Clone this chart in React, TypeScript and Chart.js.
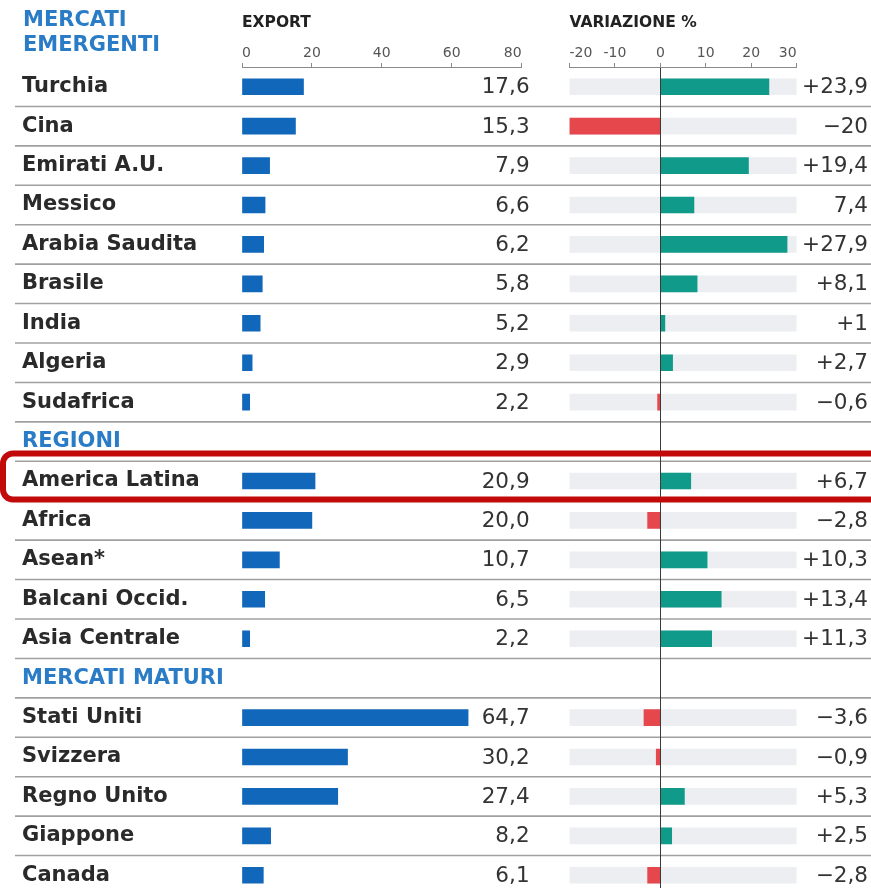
import React, { useEffect, useRef } from 'react';
import { Chart, registerables } from 'chart.js';

Chart.register(...registerables);

const FONT = '"DejaVu Sans", "Liberation Sans", sans-serif';

const SECTION_TITLE = ['MERCATI', 'EMERGENTI'];
const EXPORT_TITLE = 'EXPORT';
const VARIATION_TITLE = 'VARIAZIONE %';

const CATEGORIES = [
  'Turchia', 'Cina', 'Emirati A.U.', 'Messico', 'Arabia Saudita', 'Brasile', 'India', 'Algeria', 'Sudafrica',
  'REGIONI',
  'America Latina', 'Africa', 'Asean*', 'Balcani Occid.', 'Asia Centrale',
  'MERCATI MATURI',
  'Stati Uniti', 'Svizzera', 'Regno Unito', 'Giappone', 'Canada',
];
const HEADER_ROWS = ['REGIONI', 'MERCATI MATURI'];
const HIGHLIGHT_ROW = 'America Latina';

const EXPORT_VALUES = [
  17.6, 15.3, 7.9, 6.6, 6.2, 5.8, 5.2, 2.9, 2.2,
  null,
  20.9, 20.0, 10.7, 6.5, 2.2,
  null,
  64.7, 30.2, 27.4, 8.2, 6.1,
];
const VARIATION_VALUES = [
  23.9, -20, 19.4, 7.4, 27.9, 8.1, 1, 2.7, -0.6,
  null,
  6.7, -2.8, 10.3, 13.4, 11.3,
  null,
  -3.6, -0.9, 5.3, 2.5, -2.8,
];
const VARIATION_LABELS = [
  '+23,9', '\u221220', '+19,4', '7,4', '+27,9', '+8,1', '+1', '+2,7', '\u22120,6',
  '',
  '+6,7', '\u22122,8', '+10,3', '+13,4', '+11,3',
  '',
  '\u22123,6', '\u22120,9', '+5,3', '+2,5', '\u22122,8',
];
const EXPORT_TICKS = [0, 20, 40, 60, 80];
const VARIATION_TICKS = [-20, -10, 0, 10, 20, 30];

const COLORS = {
  exportBar: '#1167b9',
  up: '#0f9a89',
  down: '#e6474c',
  track: '#eceef1',
  header: '#2b7cc6',
  label: '#2a2a2a',
  value: '#333333',
  tick: '#555555',
  axis: '#8a8a8a',
  zero: '#3a3a3a',
  separator: '#a0a0a0',
  highlight: '#c20a0a',
};

const formatExport = (v: number) => v.toFixed(1).replace('.', ',');
const isHeader = (i: number) => HEADER_ROWS.includes(CATEGORIES[i]);

const AXIS_HEIGHT = 67;

const decorPlugin = {
  id: 'decor',
  beforeDatasetsDraw(chart: any) {
    const { ctx } = chart;
    const y = chart.scales.y;
    ctx.save();
    ctx.strokeStyle = COLORS.separator;
    ctx.lineWidth = 1.6;
    for (let i = 1; i < CATEGORIES.length; i++) {
      const yy = (y.getPixelForValue(i - 1) + y.getPixelForValue(i)) / 2;
      ctx.beginPath();
      ctx.moveTo(15, yy);
      ctx.lineTo(chart.width, yy);
      ctx.stroke();
    }
    ctx.restore();
  },
  afterDraw(chart: any) {
    const { ctx } = chart;
    const y = chart.scales.y;
    const gap = chart.scales.xG1;
    ctx.save();
    ctx.fillStyle = COLORS.header;
    ctx.font = `bold 21px ${FONT}`;
    ctx.textAlign = 'left';
    ctx.textBaseline = 'middle';
    ctx.fillText(SECTION_TITLE[0], y.left + 1, 21);
    ctx.fillText(SECTION_TITLE[1], y.left + 1, 46);

    ctx.font = `21.5px ${FONT}`;
    ctx.fillStyle = COLORS.value;
    ctx.textAlign = 'right';
    CATEGORIES.forEach((_, i) => {
      const py = y.getPixelForValue(i) + 1;
      const ev = EXPORT_VALUES[i];
      if (ev != null) ctx.fillText(formatExport(ev), gap.left + 8, py);
      const lbl = VARIATION_LABELS[i];
      if (lbl) ctx.fillText(lbl, chart.chartArea.right - 2, py);
    });

    const hi = CATEGORIES.indexOf(HIGHLIGHT_ROW);
    const cy = y.getPixelForValue(hi);
    ctx.strokeStyle = COLORS.highlight;
    ctx.lineWidth = 6;
    ctx.beginPath();
    ctx.roundRect(3, cy - 27.5, chart.width + 20, 46, 10);
    ctx.stroke();
    ctx.restore();
  },
};

const fixHeight = (s: any) => {
  s.height = AXIS_HEIGHT;
};

const hiddenGapAxis = (weight: number) => ({
  type: 'linear' as const,
  position: 'top' as const,
  stack: 'cols',
  stackWeight: weight,
  min: 0,
  max: 1,
  grid: { display: false },
  border: { display: false },
  ticks: { display: false },
  afterFit: fixHeight,
});

export default function App() {
  const ref = useRef<HTMLCanvasElement>(null);

  useEffect(() => {
    if (!ref.current) return;
    const tickFont = { family: FONT, size: 14 };
    const titleFont = { family: FONT, size: 15.5, weight: 'bold' as const };
    // Top boxes are laid out in reverse definition order, so the columns are listed right-to-left.
    const scales: any = {
      xG2: hiddenGapAxis(73.5),
      xV: {
        type: 'linear',
        position: 'top',
        stack: 'cols',
        stackWeight: 227.5,
        min: VARIATION_TICKS[0],
        max: VARIATION_TICKS[VARIATION_TICKS.length - 1],
        afterBuildTicks: (s: any) => {
          s.ticks = VARIATION_TICKS.map((v) => ({ value: v }));
        },
        ticks: { align: 'inner', font: tickFont, color: COLORS.tick, padding: 1, maxRotation: 0 },
        grid: {
          drawOnChartArea: true,
          drawTicks: true,
          tickLength: 4,
          tickColor: COLORS.axis,
          color: (c: any) => (c.tick && c.tick.value === 0 ? COLORS.zero : 'rgba(0,0,0,0)'),
          lineWidth: 1,
          z: 1,
        },
        border: { display: true, color: COLORS.axis, width: 1, z: 2 },
        title: {
          display: true,
          text: VARIATION_TITLE,
          align: 'start',
          color: '#222',
          font: titleFont,
          padding: { top: 14, bottom: 0 },
        },
        afterFit: fixHeight,
      },
      xG1: hiddenGapAxis(48),
      xE: {
        type: 'linear',
        position: 'top',
        stack: 'cols',
        stackWeight: 280,
        min: EXPORT_TICKS[0],
        max: EXPORT_TICKS[EXPORT_TICKS.length - 1],
        afterBuildTicks: (s: any) => {
          s.ticks = EXPORT_TICKS.map((v) => ({ value: v }));
        },
        ticks: { align: 'inner', font: tickFont, color: COLORS.tick, padding: 1, maxRotation: 0 },
        grid: { drawOnChartArea: false, drawTicks: true, tickLength: 4, tickColor: COLORS.axis },
        border: { display: true, color: COLORS.axis, width: 1 },
        title: {
          display: true,
          text: EXPORT_TITLE,
          align: 'start',
          color: '#222',
          font: titleFont,
          padding: { top: 14, bottom: 0 },
        },
        afterFit: fixHeight,
      },
      y: {
        type: 'category',
        position: 'left',
        grid: { display: false },
        border: { display: false },
        ticks: {
          autoSkip: false,
          crossAlign: 'far',
          font: () => ({ family: FONT, size: 21, weight: 'bold' }),
          color: (c: any) => (isHeader(c.index) ? COLORS.header : COLORS.label),
        },
        afterFit: (s: any) => {
          s.width = 220;
          s.paddingTop = 0;
          s.paddingBottom = 0;
        },
      },
    };
    const chart = new Chart(ref.current, {
      type: 'bar',
      data: {
        labels: CATEGORIES,
        datasets: [
          {
            label: 'Export',
            data: EXPORT_VALUES as any,
            xAxisID: 'xE',
            yAxisID: 'y',
            backgroundColor: COLORS.exportBar,
            barThickness: 16,
            grouped: false,
            order: 1,
          },
          {
            label: 'Variazione',
            data: VARIATION_VALUES as any,
            xAxisID: 'xV',
            yAxisID: 'y',
            backgroundColor: VARIATION_VALUES.map((v) => (v != null && v < 0 ? COLORS.down : COLORS.up)),
            barThickness: 16,
            grouped: false,
            order: 1,
          },
          {
            label: 'Track',
            data: CATEGORIES.map((_, i) =>
              isHeader(i) ? null : [VARIATION_TICKS[0], VARIATION_TICKS[VARIATION_TICKS.length - 1]]
            ) as any,
            xAxisID: 'xV',
            yAxisID: 'y',
            backgroundColor: COLORS.track,
            barThickness: 16,
            grouped: false,
            order: 2,
          },
        ],
      },
      options: {
        responsive: false,
        animation: false,
        indexAxis: 'y',
        layout: { padding: { left: 22, right: 0, top: 0, bottom: 0 } },
        plugins: { legend: { display: false }, tooltip: { enabled: false } },
        scales,
      } as any,
      plugins: [decorPlugin],
    });
    return () => chart.destroy();
  }, []);

  return (
    <div style={{ position: 'absolute', left: 0, top: 0, width: 871, height: 888, overflow: 'hidden', background: '#fff' }}>
      <canvas ref={ref} width={871} height={895} style={{ display: 'block' }} />
    </div>
  );
}
